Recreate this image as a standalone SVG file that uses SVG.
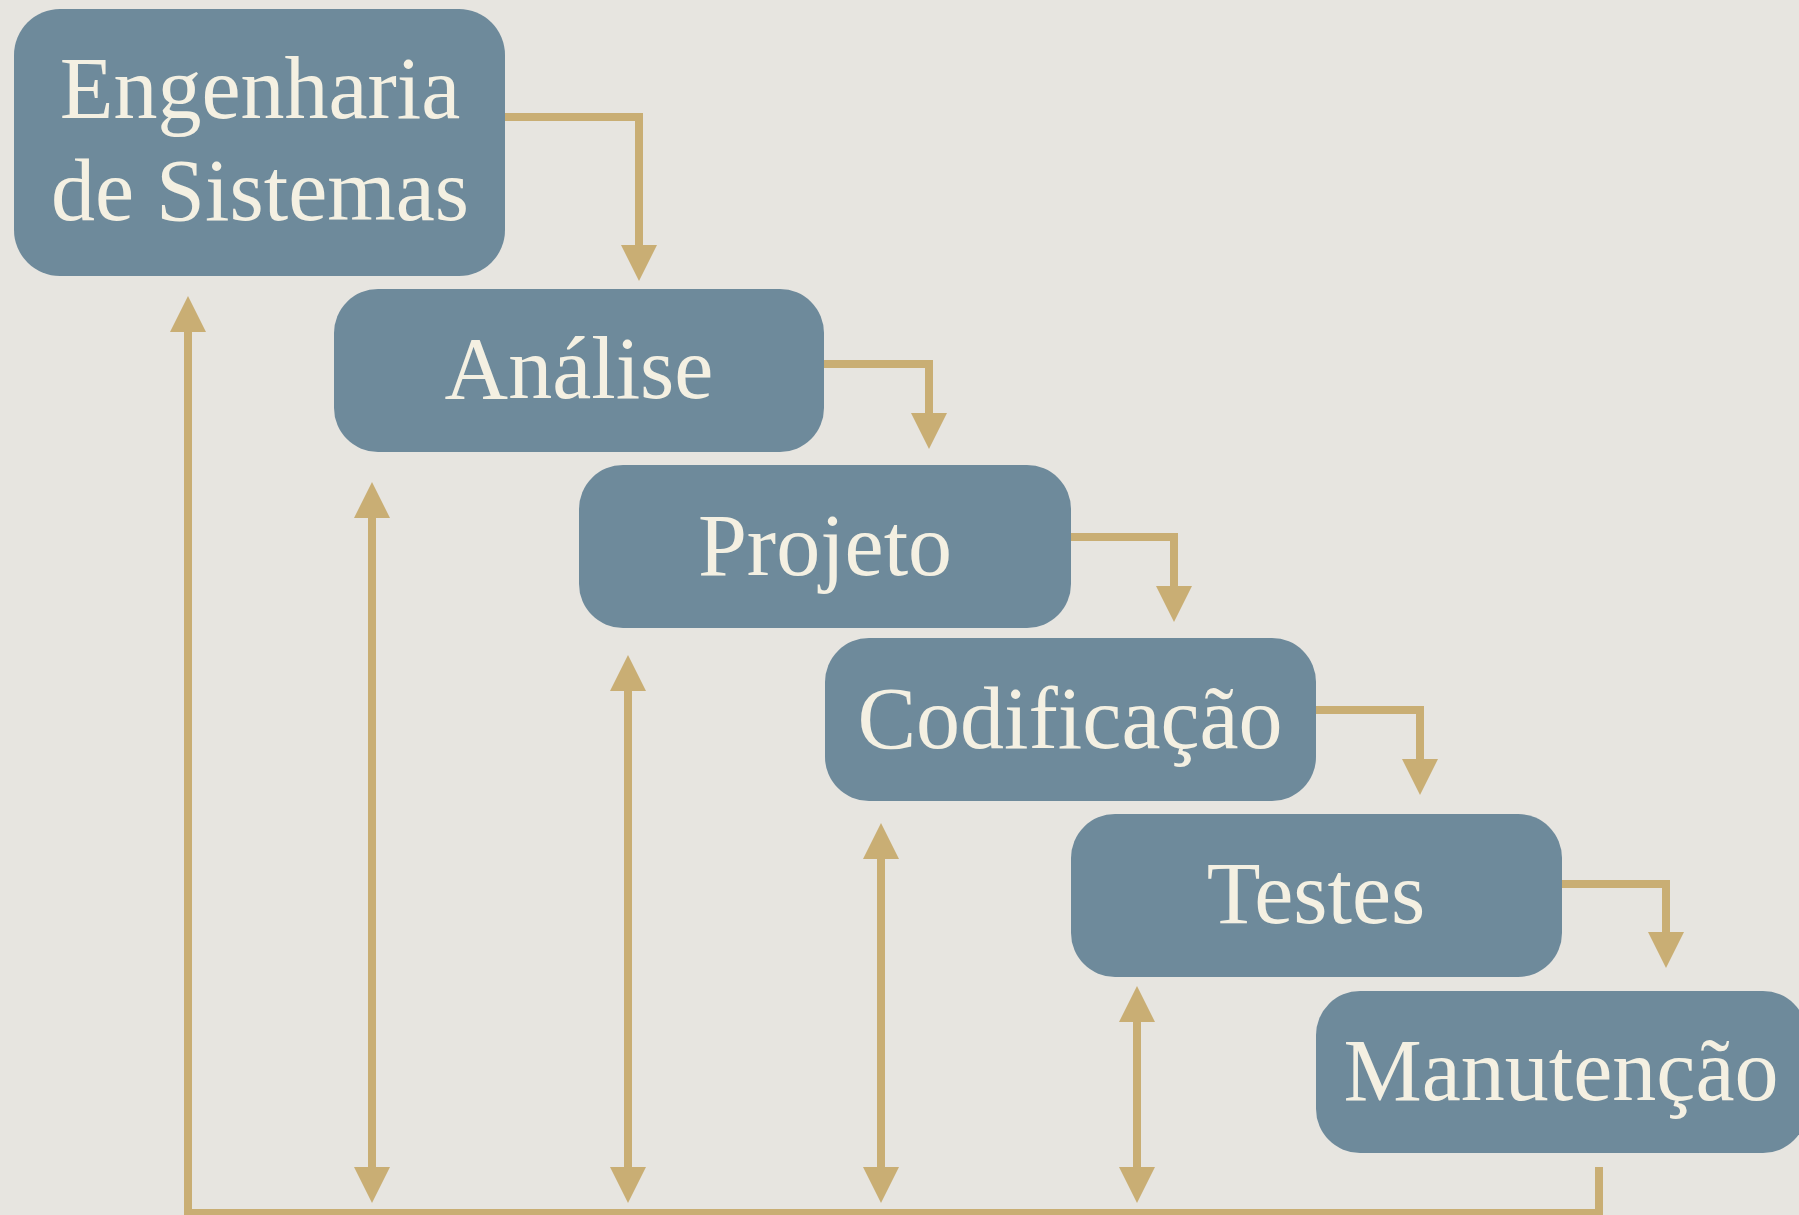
<svg xmlns="http://www.w3.org/2000/svg" width="1799" height="1215" viewBox="0 0 1799 1215">
  <style>
    .box { fill: #6E8A9B; }
    .lbl { font-family: "Liberation Serif", "DejaVu Serif", serif; font-size: 88px; fill: #F4F0E2; text-anchor: middle; }
    .conn { fill: none; stroke: #C9AE74; stroke-width: 8; stroke-linejoin: miter; stroke-linecap: butt; }
  </style>
  <defs>
    <marker id="head" markerUnits="userSpaceOnUse" markerWidth="37" markerHeight="37" viewBox="0 0 37 37" refX="1" refY="18" orient="auto-start-reverse">
      <path d="M0,0 L36,18 L0,36 Z" fill="#C9AE74"/>
    </marker>
  </defs>
  <rect x="0" y="0" width="1799" height="1215" fill="#E7E5E0"/>

  <g id="connectors">
    <path class="conn" d="M505 117 H639 V246" marker-end="url(#head)"/>
    <path class="conn" d="M824 364 H929 V414" marker-end="url(#head)"/>
    <path class="conn" d="M1071 537 H1174 V587" marker-end="url(#head)"/>
    <path class="conn" d="M1316 710 H1420 V760" marker-end="url(#head)"/>
    <path class="conn" d="M1562 884 H1666 V933" marker-end="url(#head)"/>
    <path class="conn" d="M1599 1167 V1213 H188 V331" marker-end="url(#head)"/>
    <path class="conn" d="M372 517 V1168" marker-start="url(#head)" marker-end="url(#head)"/>
    <path class="conn" d="M628 690 V1168" marker-start="url(#head)" marker-end="url(#head)"/>
    <path class="conn" d="M881 858 V1168" marker-start="url(#head)" marker-end="url(#head)"/>
    <path class="conn" d="M1137 1021 V1168" marker-start="url(#head)" marker-end="url(#head)"/>
  </g>

  <g id="engenharia">
    <rect class="box" x="14" y="9" width="491" height="267" rx="46" ry="46"/>
    <text class="lbl" x="260" y="118">Engenharia</text>
    <text class="lbl" x="260" y="220">de Sistemas</text>
  </g>
  <g id="analise">
    <rect class="box" x="334" y="289" width="490" height="163" rx="44" ry="44"/>
    <text class="lbl" x="579" y="398">Análise</text>
  </g>
  <g id="projeto">
    <rect class="box" x="579" y="465" width="492" height="163" rx="44" ry="44"/>
    <text class="lbl" x="825" y="575">Projeto</text>
  </g>
  <g id="codificacao">
    <rect class="box" x="825" y="638" width="491" height="163" rx="44" ry="44"/>
    <text class="lbl" x="1070" y="748">Codificação</text>
  </g>
  <g id="testes">
    <rect class="box" x="1071" y="814" width="491" height="163" rx="44" ry="44"/>
    <text class="lbl" x="1316" y="923">Testes</text>
  </g>
  <g id="manutencao">
    <rect class="box" x="1316" y="991" width="491" height="162" rx="44" ry="44"/>
    <text class="lbl" x="1561" y="1100">Manutenção</text>
  </g>
</svg>
